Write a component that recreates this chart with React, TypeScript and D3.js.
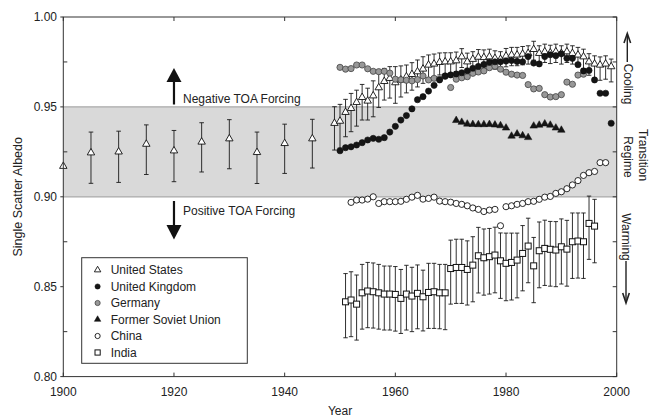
import React from "react";
import * as d3 from "d3";

// ---------- data ----------
const usYears = [1900, 1905, 1910, 1915, 1920, 1925, 1930, 1935, 1940, 1945,
  1949, 1950, 1951, 1952, 1953, 1954, 1955, 1956, 1957, 1958, 1959,
  1960, 1961, 1962, 1963, 1964, 1965, 1966, 1967, 1968, 1969,
  1970, 1971, 1972, 1973, 1974, 1975, 1976, 1977, 1978, 1979,
  1980, 1981, 1982, 1983, 1984, 1985, 1986, 1987, 1988, 1989,
  1990, 1991, 1992, 1993, 1994, 1995, 1996, 1997, 1998, 1999];
const usValues = [0.917, 0.9245, 0.925, 0.9293, 0.9256, 0.9305, 0.9323, 0.9247, 0.9297, 0.9323,
  0.9409, 0.9421, 0.947, 0.9492, 0.9525, 0.9553, 0.9533, 0.9562, 0.9607, 0.9642, 0.9659,
  0.9635, 0.965, 0.9668, 0.9681, 0.9696, 0.9711, 0.9733, 0.9739, 0.9748, 0.9751,
  0.9751, 0.9757, 0.9779, 0.9751, 0.9765, 0.9777, 0.9775, 0.9779, 0.977, 0.9765,
  0.9783, 0.9789, 0.9789, 0.9794, 0.9798, 0.982, 0.9798, 0.9807, 0.9801, 0.9807,
  0.9798, 0.9807, 0.9798, 0.9789, 0.9779, 0.9751, 0.9739, 0.9733, 0.9739, 0.9724];
const usErrUp = [0, 0.0115, 0.0115, 0.0107, 0.0113, 0.0107, 0.0106, 0.0113, 0.0107, 0.0108,
  0.0092, 0.0093, 0.0072, 0.0083, 0.0068, 0.0072, 0.0071, 0.0083, 0.0089, 0.0072, 0.0065,
  0.0089, 0.0078, 0.0065, 0.0065, 0.0065, 0.0068, 0.0056, 0.0055, 0.0052, 0.005,
  0.005, 0.0048, 0.0045, 0.0048, 0.0042, 0.0042, 0.0042, 0.0042, 0.0042, 0.0042,
  0.0042, 0.0042, 0.0042, 0.0042, 0.0042, 0.0045, 0.0042, 0.0042, 0.0042, 0.0042,
  0.0042, 0.0042, 0.0042, 0.0042, 0.0042, 0.0045, 0.0045, 0.0045, 0.0045, 0.0042];
const usErrDown = [0, 0.017, 0.017, 0.0169, 0.0172, 0.0167, 0.0167, 0.0173, 0.0167, 0.0163,
  0.0149, 0.015, 0.0136, 0.013, 0.0132, 0.0126, 0.0106, 0.0117, 0.011, 0.0104, 0.011,
  0.0115, 0.0095, 0.009, 0.0088, 0.0085, 0.008, 0.0075, 0.007, 0.007, 0.0065,
  0.0065, 0.006, 0.006, 0.006, 0.006, 0.006, 0.006, 0.006, 0.006, 0.006,
  0.006, 0.006, 0.006, 0.006, 0.006, 0.006, 0.006, 0.006, 0.006, 0.006,
  0.006, 0.006, 0.006, 0.0062, 0.0065, 0.0075, 0.008, 0.0085, 0.0085, 0.0085];

const ukYears = d3.range(1950, 2000);
const ukValues = [0.9256, 0.9273, 0.9278, 0.9288, 0.9301, 0.9316, 0.9325, 0.932, 0.9329, 0.936,
  0.9392, 0.9427, 0.9452, 0.9489, 0.954, 0.9557, 0.9588, 0.962, 0.965, 0.9672,
  0.9678, 0.9683, 0.969, 0.9701, 0.9715, 0.9725, 0.9736, 0.9748, 0.9751, 0.9751,
  0.9755, 0.9758, 0.9753, 0.9751, 0.978, 0.9744, 0.9739, 0.978, 0.979, 0.9785,
  0.9795, 0.977, 0.977, 0.9735, 0.97, 0.9703, 0.965, 0.9576, 0.9576, 0.9409];

const deYears = d3.range(1950, 1995);
const deValues = [0.972, 0.971, 0.9713, 0.9733, 0.9733, 0.9712, 0.9698, 0.9696, 0.9698, 0.9688,
  0.9654, 0.9651, 0.9648, 0.9645, 0.9652, 0.9672, 0.965, 0.9659, 0.9655, 0.967,
  0.9608, 0.9654, 0.9662, 0.9668, 0.9687, 0.9694, 0.97, 0.9718, 0.9726, 0.971,
  0.9693, 0.9682, 0.9677, 0.9675, 0.9624, 0.96, 0.9603, 0.9568, 0.9555, 0.9557,
  0.9568, 0.9638, 0.9626, 0.9677, 0.9682];

const fsuYears = d3.range(1971, 1991);
const fsuValues = [0.9425, 0.9415, 0.9405, 0.9403, 0.9402, 0.9402, 0.9403, 0.94, 0.9396, 0.9383,
  0.9338, 0.935, 0.934, 0.933, 0.9394, 0.9399, 0.9406, 0.9399, 0.9383, 0.9371];

const cnYears = d3.range(1952, 1999);
const cnValues = [0.8969, 0.8982, 0.8982, 0.8987, 0.9, 0.8963, 0.8973, 0.8973, 0.8973, 0.8975,
  0.8986, 0.8998, 0.9008, 0.8987, 0.8991, 0.8998, 0.8976, 0.8973, 0.897, 0.8963,
  0.8958, 0.895, 0.8938, 0.893, 0.8918, 0.8926, 0.893, 0.8839, 0.8945, 0.895,
  0.8958, 0.8963, 0.8973, 0.8975, 0.8986, 0.8998, 0.9002, 0.9019, 0.9028, 0.9045,
  0.9066, 0.909, 0.9119, 0.9134, 0.9141, 0.919, 0.919];

const inYears = d3.range(1951, 1997);
const inValues = [0.8416, 0.8426, 0.8403, 0.8466, 0.8476, 0.8472, 0.8466, 0.8459, 0.8459, 0.8457,
  0.8435, 0.8459, 0.8448, 0.8463, 0.8444, 0.8468, 0.8472, 0.8466, 0.8466, 0.8601,
  0.8607, 0.8607, 0.8596, 0.862, 0.8672, 0.8661, 0.8667, 0.8676, 0.8644, 0.863,
  0.8635, 0.8648, 0.8685, 0.8726, 0.8616, 0.87, 0.8713, 0.8708, 0.8704, 0.8722,
  0.8709, 0.875, 0.8754, 0.875, 0.8852, 0.8837];
const inErrUp = [0.0157, 0.0157, 0.0162, 0.0158, 0.0159, 0.016, 0.0158, 0.0156, 0.0156, 0.0155,
  0.0161, 0.016, 0.016, 0.0158, 0.0148, 0.0162, 0.0158, 0.0158, 0.0158, 0.0158,
  0.0157, 0.0157, 0.0159, 0.0158, 0.0158, 0.016, 0.0157, 0.0155, 0.0155, 0.0168,
  0.0163, 0.015, 0.0155, 0.0155, 0.0158, 0.016, 0.0157, 0.0155, 0.0158, 0.0155,
  0.016, 0.016, 0.0156, 0.016, 0.0152, 0.0149];
const inErrDown = [0.02, 0.0204, 0.02, 0.0202, 0.0204, 0.0202, 0.0202, 0.02, 0.02, 0.0204,
  0.0195, 0.02, 0.0198, 0.0197, 0.019, 0.02, 0.0204, 0.02, 0.0205, 0.0198,
  0.02, 0.02, 0.0198, 0.0204, 0.0207, 0.0208, 0.0208, 0.021, 0.0209, 0.0208,
  0.0209, 0.021, 0.0208, 0.0204, 0.0205, 0.0206, 0.0206, 0.0205, 0.0204, 0.0207,
  0.0206, 0.0204, 0.0206, 0.0204, 0.02, 0.0204];

const xTicks = [1900, 1920, 1940, 1960, 1980, 2000];
const yTicks = [0.8, 0.85, 0.9, 0.95, 1.0];
const yMinorTicks = [0.825, 0.875, 0.925, 0.975];
const bandLow = 0.9;
const bandHigh = 0.95;
const legendItems = ["United States", "United Kingdom", "Germany", "Former Soviet Union", "China", "India"];

// ---------- layout ----------
const W = 650, H = 416;
const X0 = 63.3, X1 = 616.7, Y0 = 376.6, Y1 = 17;
const FONT = "'Liberation Sans', Arial, Helvetica, sans-serif";
const TXT = "#222";

const x = d3.scaleLinear().domain([1900, 2000]).range([X0, X1]);
const y = d3.scaleLinear().domain([0.8, 1.0]).range([Y0, Y1]);

const triPath = d3.symbol().type(d3.symbolTriangle).size(24)() as string;
const triSmall = d3.symbol().type(d3.symbolTriangle).size(18)() as string;

function Marker({ kind, cx, cy, small }: { kind: number; cx: number; cy: number; small?: boolean }) {
  const r = small ? 2.6 : 3.1;
  const sq = small ? 5.2 : 6;
  switch (kind) {
    case 0:
      return <path d={small ? triSmall : triPath} transform={`translate(${cx},${cy})`} fill="#fff" stroke="#111" strokeWidth={0.9} />;
    case 1:
      return <circle cx={cx} cy={cy} r={r} fill="#151515" stroke="#111" strokeWidth={0.6} />;
    case 2:
      return <circle cx={cx} cy={cy} r={r} fill="#989898" stroke="#444" strokeWidth={0.8} />;
    case 3:
      return <path d={small ? triSmall : triPath} transform={`translate(${cx},${cy})`} fill="#151515" stroke="#111" strokeWidth={0.5} />;
    case 4:
      return <circle cx={cx} cy={cy} r={r} fill="#fff" stroke="#111" strokeWidth={0.9} />;
    default:
      return <rect x={cx - sq / 2} y={cy - sq / 2} width={sq} height={sq} fill="#fff" stroke="#111" strokeWidth={1} />;
  }
}

function ErrorBars({ years, vals, up, down, cap }: { years: number[]; vals: number[]; up: number[]; down: number[]; cap: number }) {
  return (
    <g stroke="#1a1a1a" strokeWidth={0.9}>
      {years.map((yr, i) => {
        if (!up[i] && !down[i]) return null;
        const px = x(yr);
        const t = y(vals[i] + up[i]);
        const b = y(vals[i] - down[i]);
        return (
          <g key={yr}>
            <line x1={px} x2={px} y1={t} y2={b} />
            <line x1={px - cap} x2={px + cap} y1={t} y2={t} />
            <line x1={px - cap} x2={px + cap} y1={b} y2={b} />
          </g>
        );
      })}
    </g>
  );
}

function Series({ years, vals, kind }: { years: number[]; vals: number[]; kind: number }) {
  return (
    <g>
      {years.map((yr, i) => (
        <Marker key={yr} kind={kind} cx={x(yr)} cy={y(vals[i])} />
      ))}
    </g>
  );
}

export default function App() {
  const arrowX = x(1920);
  const legX = 81.7, legY = 257.7, legW = 165.6, legH = 105.6;
  return (
    <svg width={W} height={H} style={{ position: "absolute", left: 0, top: 0, background: "#fff" }} fontFamily={FONT}>
      <rect x={0} y={0} width={W} height={H} fill="#fff" />
      {/* transition band */}
      <rect x={X0} y={y(bandHigh)} width={X1 - X0} height={y(bandLow) - y(bandHigh)} fill="#d9d9d9" />
      <line x1={X0} x2={X1} y1={y(bandHigh)} y2={y(bandHigh)} stroke="#a9a9a9" strokeWidth={1.2} />
      <line x1={X0} x2={X1} y1={y(bandLow)} y2={y(bandLow)} stroke="#a9a9a9" strokeWidth={1.2} />

      {/* annotations: forcing arrows */}
      <line x1={arrowX} x2={arrowX} y1={104.5} y2={80} stroke="#111" strokeWidth={2.2} />
      <polygon points={`${arrowX},68 ${arrowX - 7.5},82 ${arrowX + 7.5},82`} fill="#111" />
      <text x={183} y={102.5} fontSize={12} fill={TXT}>Negative TOA Forcing</text>
      <line x1={arrowX} x2={arrowX} y1={201} y2={227} stroke="#111" strokeWidth={2.2} />
      <polygon points={`${arrowX - 7.5},225 ${arrowX + 7.5},225 ${arrowX},239.5`} fill="#111" />
      <text x={183} y={215} fontSize={12} fill={TXT}>Positive TOA Forcing</text>

      {/* data */}
      <ErrorBars years={usYears} vals={usValues} up={usErrUp} down={usErrDown} cap={2.3} />
      <Series years={usYears} vals={usValues} kind={0} />
      <Series years={deYears} vals={deValues} kind={2} />
      <Series years={ukYears} vals={ukValues} kind={1} />
      <Series years={fsuYears} vals={fsuValues} kind={3} />
      <Series years={cnYears} vals={cnValues} kind={4} />
      <ErrorBars years={inYears} vals={inValues} up={inErrUp} down={inErrDown} cap={2.2} />
      <Series years={inYears} vals={inValues} kind={5} />

      {/* frame */}
      <rect x={X0} y={Y1} width={X1 - X0} height={Y0 - Y1} fill="none" stroke="#333" strokeWidth={1} />

      {/* ticks */}
      <g stroke="#333" strokeWidth={1}>
        {xTicks.map((t) => (
          <g key={t}>
            <line x1={x(t)} x2={x(t)} y1={Y0} y2={Y0 - 4} />
            <line x1={x(t)} x2={x(t)} y1={Y1} y2={Y1 + 4} />
          </g>
        ))}
        {yTicks.map((t) => (
          <g key={t}>
            <line x1={X0 - 3} x2={X0} y1={y(t)} y2={y(t)} />
            <line x1={X1} x2={X1 - 4} y1={y(t)} y2={y(t)} />
          </g>
        ))}
        {yMinorTicks.map((t) => (
          <g key={t}>
            <line x1={X0} x2={X0 + 4} y1={y(t)} y2={y(t)} />
            <line x1={X1} x2={X1 - 4} y1={y(t)} y2={y(t)} />
          </g>
        ))}
      </g>
      {yTicks.map((t) => (
        <text key={t} x={57} y={y(t)} dy="0.35em" textAnchor="end" fontSize={12} fill={TXT}>
          {d3.format(".2f")(t)}
        </text>
      ))}
      {xTicks.map((t) => (
        <text key={t} x={x(t)} y={396} textAnchor="middle" fontSize={12} fill={TXT}>
          {t}
        </text>
      ))}

      {/* axis titles */}
      <text x={(X0 + X1) / 2} y={414.5} textAnchor="middle" fontSize={12} fill={TXT}>Year</text>
      <text transform={`translate(18,${(Y0 + Y1) / 2}) rotate(-90)`} textAnchor="middle" dominantBaseline="central" fontSize={12.5} fill={TXT}>
        Single Scatter Albedo
      </text>

      {/* right side regime labels */}
      <line x1={627.3} x2={627.3} y1={34} y2={62} stroke="#222" strokeWidth={1.4} />
      <path d="M624,43 L627.3,33.5 L630.6,43" fill="none" stroke="#222" strokeWidth={1.6} />
      <text transform="translate(628,84) rotate(90)" textAnchor="middle" dominantBaseline="central" fontSize={12} fill={TXT}>Cooling</text>
      <text transform="translate(643,155) rotate(90)" textAnchor="middle" dominantBaseline="central" fontSize={12} fill={TXT}>Transition</text>
      <text transform="translate(627.5,157) rotate(90)" textAnchor="middle" dominantBaseline="central" fontSize={12} fill={TXT}>Regime</text>
      <text transform="translate(626,237) rotate(90)" textAnchor="middle" dominantBaseline="central" fontSize={12} fill={TXT}>Warming</text>
      <line x1={626} x2={626} y1={261} y2={302} stroke="#222" strokeWidth={1.4} />
      <path d="M622.7,293 L626,303 L629.3,293" fill="none" stroke="#222" strokeWidth={1.6} />

      {/* legend */}
      <rect x={legX} y={legY} width={legW} height={legH} fill="#fff" stroke="#333" strokeWidth={1} />
      {legendItems.map((name, i) => {
        const cy = 270 + i * 16.5;
        return (
          <g key={name}>
            <Marker kind={i} cx={97.6} cy={cy} small />
            <text x={110.7} y={cy} dy="0.35em" fontSize={12} fill={TXT}>{name}</text>
          </g>
        );
      })}
    </svg>
  );
}
